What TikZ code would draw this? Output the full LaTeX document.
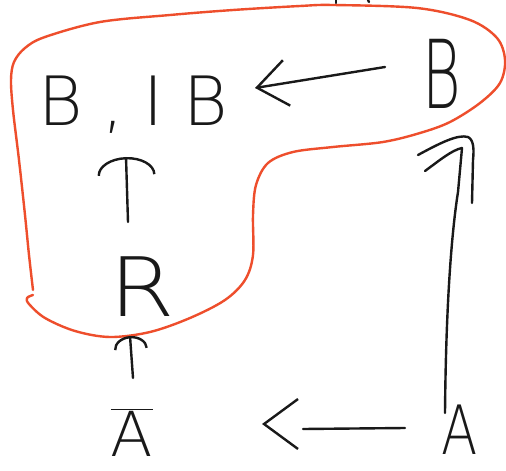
\documentclass[tikz,border=0pt]{standalone}
\usepackage{fontspec}
\newfontfamily\hand{DejaVuSans-ExtraLight.ttf}
\usetikzlibrary{arrows.meta}
\definecolor{loopred}{RGB}{238,78,44}
\begin{document}
\begin{tikzpicture}[x=1pt,y=-1pt,
  ink/.style={line width=2.4pt,line cap=round,line join=round,black!90},
  lbl/.style={inner sep=0pt,anchor=base,black!90},
  flat/.style={-{Straight Barb[length=30pt,width=46pt]}},
  arcbig/.style={-{Arc Barb[length=18pt,width=58pt]}},
  arcsmall/.style={-{Arc Barb[length=13pt,width=34pt]}}]
\useasboundingbox (0,0) rectangle (506,471);
\fill[white] (0,0) rectangle (506,471);
% labels
\node[lbl,font=\hand\fontsize{68}{72}\selectfont] (BIB) at (133,125) {\makebox[190pt][s]{B\hfill,\hfill I\hfill B}};
\node[lbl,font=\hand\fontsize{95}{100}\selectfont] (Bt) at (442,108) {\scalebox{0.62}[1]{B}};
\node[lbl,font=\hand\fontsize{82}{86}\selectfont] (R) at (142,316) {\scalebox{1.15}[1]{R}};
\node[lbl,font=\hand\fontsize{62}{66}\selectfont] (Abar) at (132,456) {$\overline{\mbox{A}}$};
\node[lbl,font=\hand\fontsize{68}{72}\selectfont] (A) at (460,454) {\scalebox{0.78}[1]{A}};
% red loop
\draw[loopred,line width=2.4pt,line cap=round,line join=round] plot[smooth,tension=0.55] coordinates {
 (33,290) (29,255) (25,215) (19,160) (13,110) (11,80) (14,62) (25,48) (45,37) (100,22) (170,15) (233,10) (300,6) (333,5) (417,8) (470,20) (497,38) (505,60) (500,83) (480,103) (450,122) (420,133) (383,142) (333,147) (293,152) (268,163) (256,185) (253,215) (253,255) (245,280) (225,300) (190,318) (150,332) (110,337) (75,331) (45,318) (29,304) (27,298) (33,295)};
% tiny marks at the top edge
\draw[ink] (336,0) -- (336,3);
\draw[ink] (368,0) -- (369,2);
% B -> B, IB
\draw[ink,flat] ([xshift=-57pt,yshift=41pt]Bt.base) -- ([xshift=122pt,yshift=37pt]BIB.base);
% R -> B, IB
\draw[ink,arcbig] ([xshift=-14pt,yshift=94pt]R.base) -- ([xshift=-7pt,yshift=-32pt]BIB.base);
% Abar -> R
\draw[ink,arcsmall] ([xshift=1pt,yshift=78pt]Abar.base) -- ([xshift=-12pt,yshift=-20pt]R.base);
% A -> Abar (shaft, then detached head)
\draw[ink] ([xshift=-55pt,yshift=26pt]A.base) -- ([xshift=171pt,yshift=27pt]Abar.base);
\draw[ink,-{Straight Barb[length=34pt,width=50pt]}] ([xshift=133pt,yshift=32pt]Abar.base) -- ([xshift=130pt,yshift=32pt]Abar.base);
% A => B
\draw[ink] ([xshift=-15pt,yshift=41pt]A.base) .. controls (446,300) and (452,230) .. (458,192) -- ([xshift=20pt,yshift=-40pt]Bt.base);
\draw[ink] (418,155) .. controls (440,143) and (458,134) .. (468,137) .. controls (474,140) and (474,150) .. (473,160) -- (472,203);
\draw[ink] (425,171) .. controls (440,160) and (452,150) .. (462,148);
\end{tikzpicture}
\end{document}
